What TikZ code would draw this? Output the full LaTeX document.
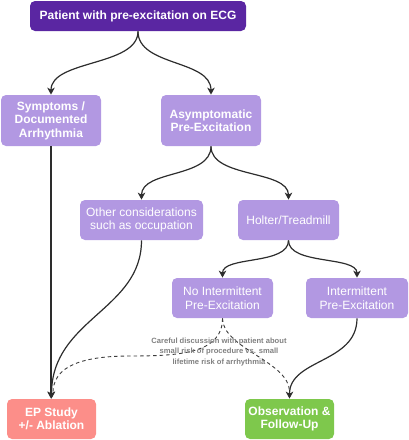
\documentclass[tikz,border=0pt]{standalone}
\usepackage{fontspec}
\setmainfont{Liberation Sans}
\usetikzlibrary{arrows.meta}

\tikzset{every picture/.style={line width=0.75pt}}
\tikzset{
  box/.style={rounded corners=5, inner sep=0.75pt, align=center, text=white, font=\fontsize{12}{13.5}\selectfont},
  boxdark/.style={box, fill={rgb, 255:red, 90; green, 38; blue, 162 }, font=\fontsize{12}{13.5}\selectfont\bfseries},
  boxlight/.style={box, fill={rgb, 255:red, 178; green, 152; blue, 226 }},
  boxred/.style={box, fill={rgb, 255:red, 252; green, 142; blue, 137 }, font=\fontsize{12}{13.5}\selectfont\bfseries},
  boxgreen/.style={box, fill={rgb, 255:red, 126; green, 200; blue, 76 }, font=\fontsize{12}{13.5}\selectfont\bfseries},
  link/.style={color={rgb, 255:red, 45; green, 45; blue, 45 }, line width=1.2pt, -{Stealth[length=7pt,width=7.5pt,inset=2pt]}},
  dashlink/.style={color={rgb, 255:red, 60; green, 60; blue, 60 }, line width=0.9pt, dash pattern=on 3.5pt off 3pt},
}

\begin{document}
\begin{tikzpicture}[x=1pt,y=1pt,yscale=-1,xscale=1]
\useasboundingbox (0,0) rectangle (409,440);

%Shape: Rounded Rect [id:top] 
\node [boxdark, minimum width=216, minimum height=30] (patient) at (138,16) {Patient with pre-excitation on ECG};
%Shape: Rounded Rect [id:symptoms] 
\node [boxlight, minimum width=100, minimum height=51, font=\fontsize{12}{13.5}\selectfont\bfseries] (symptoms) at (51,120.5) {Symptoms /\\Documented\\Arrhythmia};
%Shape: Rounded Rect [id:asymptomatic] 
\node [boxlight, minimum width=100, minimum height=51, font=\fontsize{12}{13.5}\selectfont\bfseries] (asympt) at (211,120.5) {Asymptomatic\\Pre-Excitation};
%Shape: Rounded Rect [id:other] 
\node [boxlight, minimum width=123, minimum height=40] (other) at (141.5,220) {Other considerations\\such as occupation};
%Shape: Rounded Rect [id:holter] 
\node [boxlight, minimum width=101, minimum height=40] (holter) at (288.5,220) {Holter/Treadmill};
%Shape: Rounded Rect [id:nointermittent] 
\node [boxlight, minimum width=101, minimum height=40] (noint) at (222.5,298) {No Intermittent\\Pre-Excitation};
%Shape: Rounded Rect [id:intermittent] 
\node [boxlight, minimum width=102, minimum height=40] (interm) at (357,298) {Intermittent\\Pre-Excitation};
%Shape: Rounded Rect [id:ep] 
\node [boxred, minimum width=89, minimum height=40] (ep) at (51.5,419) {EP Study\\+/- Ablation};
%Shape: Rounded Rect [id:observation] 
\node [boxgreen, minimum width=89, minimum height=40] (obs) at (289.5,419) {Observation \&\\Follow-Up};

%Curve Lines 
\draw [link] (patient.south) .. controls +(0,35) and +(0,-35) .. (symptoms.north);
\draw [link] (patient.south) .. controls +(0,35) and +(0,-35) .. (asympt.north);
\draw [link] (asympt.south) .. controls +(0,32) and +(0,-30) .. (other.north);
\draw [link] (asympt.south) .. controls +(0,32) and +(0,-30) .. (holter.north);
\draw [link] (holter.south) .. controls +(0,25) and +(0,-22) .. (noint.north);
\draw [link] (holter.south) .. controls +(0,25) and +(0,-22) .. (interm.north);
%Straight Lines 
\draw [link] (symptoms.south) -- (symptoms.south |- ep.north);
\draw [link] (other.south) .. controls +(0,70) and +(0,-80) .. (ep.north);
\draw [link] (interm.south) .. controls +(0,45) and +(0,-40) .. (obs.north);

%Dashed Curves 
\draw [dashlink] (noint.south) .. controls +(0,35) and +(50,0) .. (130,356) .. controls (70,356) and (54,372) .. ([xshift=1.5pt,yshift=-7pt]ep.north);
\draw [dashlink] (noint.south) .. controls +(0,30) and +(0,-30) .. ([yshift=-7pt]obs.north);

% Text Node
\node [inner sep=0.75pt, align=center, text={rgb, 255:red, 128; green, 128; blue, 128 }, font=\fontsize{7.6}{10.5}\selectfont\bfseries] (talk) at (219,352) {Careful discussion with patient about\\small risk of procedure vs. small\\lifetime risk of arrhythmia};

\end{tikzpicture}
\end{document}
